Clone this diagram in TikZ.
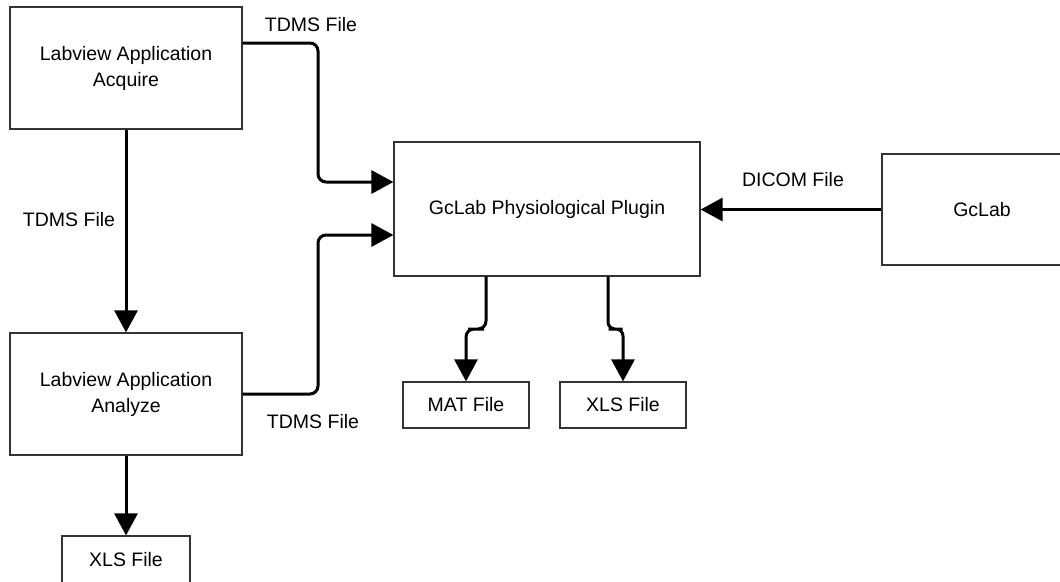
\documentclass[tikz,border=0pt]{standalone}
\usepackage{fontspec}
\setmainfont{Liberation Sans}
\usepackage{tikz}
\usetikzlibrary{arrows.meta, positioning, calc}

\begin{document}
\begin{tikzpicture}[x=1pt, y=-1pt,
        box/.style={draw=black!80, line width=1.2pt, align=center, inner sep=0pt,
            font=\fontsize{19.5}{26}\selectfont},
        lbl/.style={font=\fontsize{19.5}{26}\selectfont, inner sep=0pt},
        flow/.style={line width=3pt, rounded corners=8pt,
            -{Triangle[length=22pt, width=23pt]}}]
            \useasboundingbox (0,0) rectangle (1060,581);
            \node[box, minimum width=232pt, minimum height=122pt] (acq) at (126,68) {Labview Application\\Acquire};
            \node[box, minimum width=232pt, minimum height=122pt] (ana) at (126,394) {Labview Application\\Analyze};
            \node[box, minimum width=128pt, minimum height=48pt] (xlsa) at (126,560) {XLS File};
            \node[box, minimum width=306pt, minimum height=134pt] (plug) at (547,209) {GcLab Physiological Plugin};
            \node[box, minimum width=200pt, minimum height=111pt] (gclab) at (982,209.5) {GcLab};
            \node[box, minimum width=126pt, minimum height=46pt] (mat) at (466,405) {MAT File};
            \node[box, minimum width=126pt, minimum height=46pt] (xlsb) at (623,405) {XLS File};

            \node[lbl] (tdmsA) at (311,25) {TDMS File};
            \node[lbl] (tdmsB) at (69,220) {TDMS File};
            \node[lbl] (tdmsC) at (313,422) {TDMS File};
            \node[lbl] (dicom) at (793,180) {DICOM File};

            \coordinate (bus) at ($(acq.east)!.5!(plug.west)$);
            \coordinate (outA) at ([yshift=25pt]acq.east);
            \coordinate (inA) at ([yshift=27pt]plug.west);
            \coordinate (inB) at ([yshift=-26pt]plug.west);
            \coordinate (outM) at ([xshift=-61pt]plug.south);
            \coordinate (outX) at ([xshift=61pt]plug.south);

            \draw[flow] (outA) -| (bus) |- (inA);
            \draw[flow] (ana.east) -| (bus |- inB) -- (inB);
            \draw[flow] (acq.south) -- (ana.north);
            \draw[flow] (ana.south) -- (xlsa.north);
            \draw[flow] (gclab.west) -- (gclab.west -| plug.east);
            \draw[flow] (outM) |- ($(outM)!.5!(mat.north)$) -| (mat.north);
            \draw[flow, rounded corners=7pt] (outX) |- ($(outX)!.5!(xlsb.north)$) -| (xlsb.north);
        \end{tikzpicture}
\end{document}
